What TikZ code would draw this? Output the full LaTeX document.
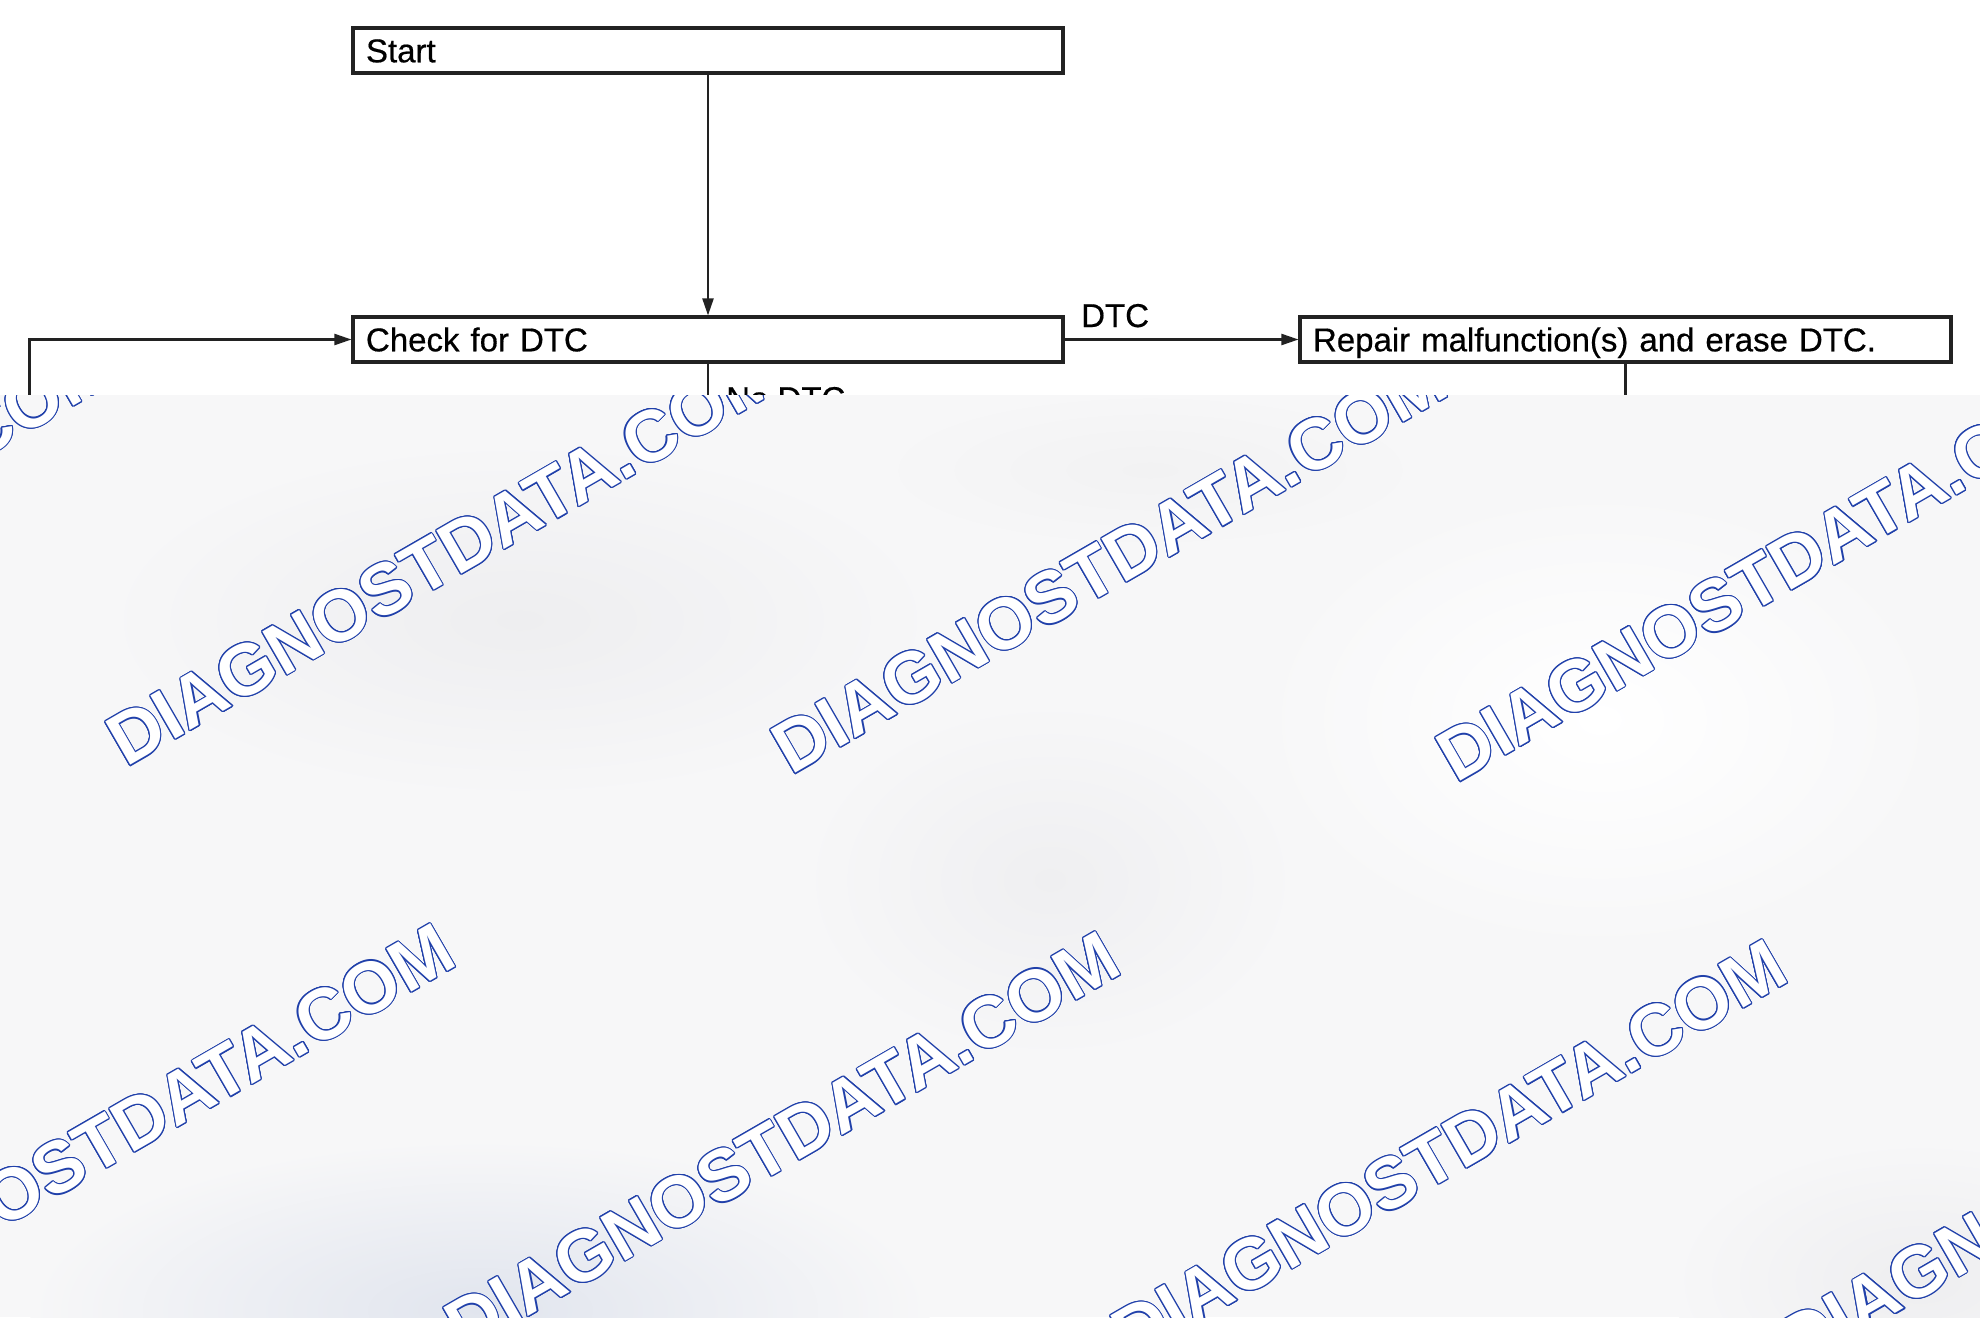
\documentclass[tikz,border=0pt]{standalone}
\usepackage{fontspec}
\setmainfont{Liberation Sans}
\newfontfamily\chartfont[FakeBold=0.5]{Liberation Sans}
\usetikzlibrary{arrows.meta}
\definecolor{ink}{RGB}{34,34,34}
\definecolor{wmblue}{RGB}{32,64,170}
\definecolor{veil}{RGB}{247,247,248}
\newcommand\wmark[3]{%
  \foreach \a [count=\k] in {0,22.5,...,337.5}{
    \node[wmtext, text=wmblue] (#1o\k) at ([shift={(\a:1.1pt)}]#2,#3) {DIAGNOSTDATA.COM};
  }
  \node[wmtext, text=white] (#1) at (#2,#3) {DIAGNOSTDATA.COM};
}
\begin{document}
\begin{tikzpicture}[x=1pt,y=-1pt,
  box/.style={draw=ink, line width=3.1pt, rectangle, minimum height=45pt,
    inner xsep=13pt, inner ysep=0pt, text height=23.6pt, text depth=0pt,
    align=left, font=\chartfont\fontsize{33pt}{38pt}\selectfont, text=black},
  conn/.style={draw=ink, line width=2.2pt},
  arr/.style={conn, -{Triangle[length=17pt,width=11pt]}},
  lbl/.style={anchor=base west, inner sep=0pt, font=\chartfont\fontsize{33pt}{38pt}\selectfont, text=black},
  wmtext/.style={anchor=base west, inner sep=0pt, rotate=30,
    font=\bfseries\fontsize{72.5pt}{80pt}\selectfont}]
\useasboundingbox (0,0) rectangle (1980,1317);
\fill[white] (0,0) rectangle (1980,1317);

% flowchart
\node[box, text width=684pt] (start) at (708,50.5) {Start};
\node[box, text width=684pt] (check) at (708,339.5) {Check for DTC};
\node[box, text width=625pt] (repair) at (1625.5,339.5) {Repair malfunction(s) and erase DTC.};
\coordinate (loopbot) at (29.5,900);
\coordinate (nodtcbot) at (708,900);
\coordinate (repairbot) at (1625.5,900);

\draw[arr] (start.south) -- (check.north);
\draw[arr] (check.east) -- (repair.west);
\node[lbl] (dtclbl) at (1081,327) {DTC};
\draw[arr] (loopbot) |- (check.west);
\draw[conn] (check.south) -- (nodtcbot);
\node[lbl] (nodtclbl) at (726,410) {No DTC};
\draw[conn] (repair.south) -- (repairbot);

% veil with watermark
\begin{scope}
\clip (0,395) rectangle (1980,1317);
\fill[veil] (0,395) rectangle (1980,1317);
\shade[inner color={rgb,255:red,225;green,229;blue,238}, outer color=veil] (480,1310) ellipse [x radius=450pt, y radius=170pt];
\shade[inner color={rgb,255:red,238;green,238;blue,240}, outer color=veil] (520,620) ellipse [x radius=420pt, y radius=180pt];
\shade[inner color={rgb,255:red,239;green,239;blue,241}, outer color=veil] (1050,880) ellipse [x radius=250pt, y radius=180pt];
\shade[inner color=white, outer color=veil] (1600,720) ellipse [x radius=340pt, y radius=230pt];
\shade[inner color={rgb,255:red,238;green,238;blue,240}, outer color=veil] (1920,1280) ellipse [x radius=250pt, y radius=140pt];
\shade[inner color={rgb,255:red,242;green,242;blue,243}, outer color=veil] (1150,470) ellipse [x radius=280pt, y radius=80pt];

\wmark{wma}{-539}{760}
\wmark{wmb}{126}{768}
\wmark{wmc}{791}{776}
\wmark{wmd}{1456}{784}
\wmark{wme}{-201}{1346}
\wmark{wmf}{464}{1354}
\wmark{wmg}{1131}{1362}
\wmark{wmh}{1798}{1370}
\end{scope}
\end{tikzpicture}
\end{document}
